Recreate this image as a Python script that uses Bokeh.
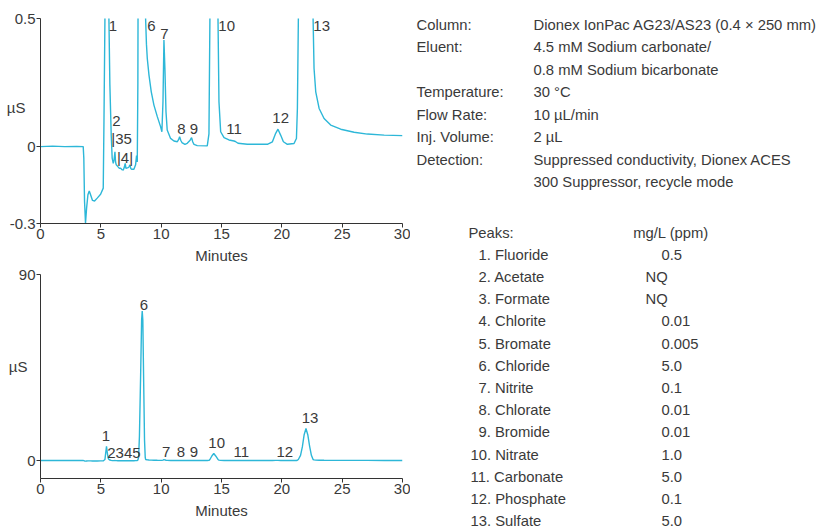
from bokeh.plotting import figure
from bokeh.layouts import row, column
from bokeh.models import Range1d, FixedTicker, LinearAxis
from bokeh.embed import file_html
from bokeh.resources import INLINE
from bokeh.core.properties import value

# ---------------- data ----------------
time_min = [0.0, 1.0, 2.0, 3.0, 3.54, 3.59, 3.65, 3.73, 3.82, 3.93, 4.04, 4.15, 4.31, 4.48,
            4.70, 4.98, 5.20, 5.26, 5.34, 5.40, 5.47, 5.54, 5.62, 5.67, 5.75, 5.86, 5.94,
            6.03, 6.10, 6.17, 6.22, 6.28, 6.41, 6.55, 6.64, 6.75, 6.86, 6.95, 7.02, 7.08,
            7.13, 7.27, 7.35, 7.41, 7.48, 7.55, 7.74, 7.88, 7.96, 8.02, 8.07, 8.13, 8.20,
            8.30, 8.38, 8.43, 8.48, 8.55, 8.62, 8.68, 8.71, 8.78, 8.85, 8.99, 9.18, 9.40,
            9.68, 9.95, 10.06, 10.15, 10.23, 10.31, 10.40, 10.50, 10.78, 11.06, 11.34,
            11.45, 11.53, 11.62, 11.72, 11.97, 12.16, 12.40, 12.52, 12.62, 12.72, 12.99,
            13.82, 13.96, 14.04, 14.20, 14.36, 14.52, 14.71, 14.79, 14.93, 15.21, 15.62,
            16.04, 16.15, 16.37, 17.14, 18.80, 19.22, 19.49, 19.68, 19.90, 20.13, 20.46,
            21.01, 21.21, 21.29, 21.37, 21.55, 21.70, 21.85, 22.00, 22.15, 22.30, 22.45,
            22.59, 22.67, 22.81, 23.09, 23.50, 24.05, 24.88, 25.99, 27.09, 28.48, 30.0]
signal_us = [0.0, 0.002, 0.0, 0.001, 0.0, -0.045, -0.214, -0.299, -0.24, -0.188, -0.173,
             -0.188, -0.21, -0.212, -0.201, -0.186, -0.162, 0.10, 0.50, 3.5, 6.9, 3.5, 1.0,
             0.50, 0.24, 0.045, -0.045, -0.065, -0.05, -0.02, -0.06, -0.071, -0.078, -0.085,
             -0.084, -0.09, -0.091, -0.08, -0.065, -0.085, -0.084, -0.082, -0.078, -0.071,
             -0.085, -0.088, -0.088, -0.071, -0.035, -0.06, 0.25, 1.5, 12.0, 42.0, 68.0,
             72.3, 68.0, 38.0, 10.0, 1.5, 0.50, 0.40, 0.344, 0.279, 0.214, 0.162, 0.117,
             0.078, 0.058, 0.175, 0.416, 0.305, 0.136, 0.065, 0.032, 0.022, 0.019, 0.028,
             0.039, 0.025, 0.016, 0.009, 0.013, 0.025, 0.035, 0.018, 0.009, 0.004, 0.003,
             0.05, 0.50, 2.2, 3.4, 2.2, 0.50, 0.175, 0.058, 0.035, 0.026, 0.022, 0.02,
             0.013, 0.009, 0.009, 0.019, 0.052, 0.068, 0.045, 0.019, 0.009, 0.012, 0.032,
             0.15, 0.50, 2.5, 6.6, 12.5, 15.5, 12.5, 7.0, 2.5, 0.50, 0.305, 0.214, 0.149,
             0.110, 0.084, 0.068, 0.056, 0.049, 0.045, 0.043]

x_ticks = [0, 5, 10, 15, 20, 25, 30]
top_y_ticks = [-0.3, 0, 0.5]
top_y_labels = ["-0.3", "0", "0.5"]
bot_y_ticks = [0, 90]
bot_y_labels = ["0", "90"]
unit_label = "\u00b5S"
top_unit_at = 0.152
bot_unit_at = 45.3

top_peak_text = ["1", "2", "|35", "|4|", "6", "7", "8", "9", "10", "11", "12", "13"]
top_peak_t = [6.0, 6.3, 6.72, 7.0, 9.2, 10.28, 11.67, 12.72, 15.43, 16.04, 19.9, 23.3]
top_peak_v = [0.471, 0.10, 0.03, -0.041, 0.471, 0.441, 0.07, 0.07, 0.471, 0.067, 0.11, 0.471]

bot_peak_text = ["1", "2345", "6", "7", "8", "9", "10", "11", "12", "13"]
bot_peak_t = [5.42, 6.91, 8.57, 10.42, 11.64, 12.72, 14.6, 16.64, 20.24, 22.34]
bot_peak_v = [11.9, 3.4, 75.4, 4.2, 4.2, 4.2, 8.5, 4.2, 4.2, 20.6]

cond_labels = ["Column:", "Eluent:", "", "Temperature:", "Flow Rate:", "Inj. Volume:",
               "Detection:", ""]
cond_values = ["Dionex IonPac AG23/AS23 (0.4 \u00d7 250 mm)", "4.5 mM Sodium carbonate/",
               "0.8 mM Sodium bicarbonate", "30 \u00b0C", "10 \u00b5L/min", "2 \u00b5L",
               "Suppressed conductivity, Dionex ACES", "300 Suppressor, recycle mode"]

peak_names = ["1. Fluoride", "2. Acetate", "3. Formate", "4. Chlorite", "5. Bromate",
              "6. Chloride", "7. Nitrite", "8. Chlorate", "9. Bromide", "10. Nitrate",
              "11. Carbonate", "12. Phosphate", "13. Sulfate"]
peak_conc = ["0.5", "NQ", "NQ", "0.01", "0.005", "5.0", "0.1", "0.01", "0.01", "1.0",
             "5.0", "0.1", "5.0"]

# ---------------- style ----------------
FONT = "Liberation Sans"
TXT = "#3a3a3a"
AX = "#333333"
LINE = "#2db7d8"
FS = "15px"
FS_R = "14.8px"


def chart(height, yr, yticks, ylabels, b_top, b_bottom, unit_at, unit_standoff):
    p = figure(width=410, height=height, x_range=Range1d(0, 30), y_range=yr,
               output_backend="svg", toolbar_location=None,
               min_border_left=40, min_border_right=8,
               min_border_top=b_top, min_border_bottom=b_bottom)
    p.outline_line_color = None
    p.grid.visible = False
    p.background_fill_color = "white"
    p.border_fill_color = "white"
    xa, ya = p.xaxis[0], p.yaxis[0]
    xa.ticker = FixedTicker(ticks=x_ticks)
    ya.ticker = FixedTicker(ticks=yticks)
    ya.major_label_overrides = {t: l for t, l in zip(yticks, ylabels)}
    for a in (xa, ya):
        a.axis_line_color = AX
        a.major_tick_line_color = AX
        a.minor_tick_line_color = None
        a.major_tick_in = 0
        a.major_tick_out = 4
        a.major_label_text_font = FONT
        a.major_label_text_font_size = FS
        a.major_label_text_color = TXT
    ya.major_label_standoff = 1
    xa.major_label_standoff = 1
    xa.axis_label = "Minutes"
    xa.axis_label_text_font = FONT
    xa.axis_label_text_font_size = FS
    xa.axis_label_text_font_style = "normal"
    xa.axis_label_text_color = TXT
    xa.axis_label_standoff = 5
    # unit label as a tick-less outer axis
    ua = LinearAxis(ticker=FixedTicker(ticks=[unit_at]),
                    major_label_overrides={unit_at: unit_label},
                    axis_line_color=None, major_tick_line_color=None,
                    minor_tick_line_color=None, major_tick_in=0, major_tick_out=0,
                    major_label_standoff=unit_standoff,
                    major_label_text_font=FONT, major_label_text_font_size=FS,
                    major_label_text_color=TXT)
    p.add_layout(ua, "left")
    p.line(time_min, signal_us, line_color=LINE, line_width=1.4)
    return p


p1 = chart(267, Range1d(-0.3, 0.5), top_y_ticks, top_y_labels, 18, 44, top_unit_at, -19)
p1.text(top_peak_t, top_peak_v, text=top_peak_text, text_font=value(FONT),
        text_font_size=value(FS), text_color=TXT, text_align="center",
        text_baseline="middle")

p2 = chart(264, Range1d(-8.7, 90), bot_y_ticks, bot_y_labels, 7, 53, bot_unit_at, -12)
p2.text(bot_peak_t, bot_peak_v, text=bot_peak_text, text_font=value(FONT),
        text_font_size=value(FS), text_color=TXT, text_align="center",
        text_baseline="middle")

# ---------------- right-hand text panel ----------------
p3 = figure(width=412, height=531, x_range=Range1d(0, 412), y_range=Range1d(531, 0),
            output_backend="svg", toolbar_location=None, min_border=0)
p3.axis.visible = False
p3.grid.visible = False
p3.outline_line_color = None

row_step = 22.5
cond_y = [24.0 + i * row_step for i in range(len(cond_values))]
p3.text([6] * len(cond_labels), cond_y, text=cond_labels, text_font=value(FONT),
        text_font_size=value(FS_R), text_color=TXT, text_baseline="middle")
p3.text([123] * len(cond_values), cond_y, text=cond_values, text_font=value(FONT),
        text_font_size=value(FS_R), text_color=TXT, text_baseline="middle")

tab_step = 22.2
p3.text([58, 222.7], [232.0, 232.0], text=["Peaks:", "mg/L (ppm)"], text_font=value(FONT),
        text_font_size=value(FS_R), text_color=TXT, text_baseline="middle")
name_x = [60 if n[1] != "." else 68 for n in peak_names]
name_y = [232.0 + (i + 1) * tab_step for i in range(len(peak_names))]
conc_x = [235 if c == "NQ" else 251 for c in peak_conc]
p3.text(name_x, name_y, text=peak_names, text_font=value(FONT),
        text_font_size=value(FS_R), text_color=TXT, text_baseline="middle")
p3.text(conc_x, name_y, text=peak_conc, text_font=value(FONT),
        text_font_size=value(FS_R), text_color=TXT, text_baseline="middle")

layout = row(column(p1, p2), p3)
open("out.html", "w").write(file_html(layout, INLINE))
